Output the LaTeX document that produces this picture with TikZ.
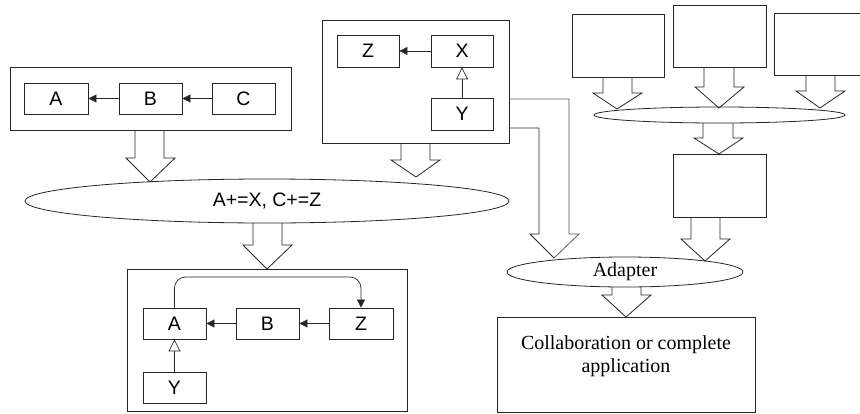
\documentclass[tikz,border=0pt]{standalone}
\usepackage{fontspec}
\setmainfont{Liberation Serif}
\setsansfont{Liberation Sans}
\usetikzlibrary{arrows.meta,shapes.geometric,calc}

\tikzset{
  frame/.style={draw=black!85, line width=0.8pt, inner sep=0pt},
  cls/.style={draw=black!85, line width=0.8pt, inner sep=0pt,
    minimum width=63pt, minimum height=31pt, font=\sffamily\fontsize{19.5}{22}\selectfont},
  oval/.style={ellipse, draw=black!85, line width=0.8pt, inner sep=0pt},
  hollow/.style={draw=black!85, line width=0.8pt, line join=miter},
  uses/.style={draw=black!85, line width=0.7pt, -{Triangle[length=8pt,width=8pt]}},
  inherits/.style={draw=black!85, line width=0.7pt, -{Triangle[open,length=12pt,width=12pt,fill=white]}},
  link/.style={draw=black!85, line width=0.8pt},
}

% hollow block arrow: shaft x-left, shaft x-right, top y, wing x-left, wing x-right, wing y, tip x, tip y
\newcommand\hollowarrow[8]{%
  \draw[hollow] (#1,#3) -- (#1,#6) -- (#4,#6) -- (#7,#8) -- (#5,#6) -- (#2,#6) -- (#2,#3);}

\begin{document}
\begin{tikzpicture}[x=1pt,y=-1pt]
\useasboundingbox (0,0) rectangle (860,413);
\clip (0,0) rectangle (860,413);

% first component: A <- B <- C
\node[frame, minimum width=281pt, minimum height=63pt] (left) at (150.5,98.5) {};
\node[cls, minimum width=64pt] (a1) at (56,98.5) {A};
\node[cls] (b1) at (150.5,98.5) {B};
\node[cls] (c1) at (243.5,98.5) {C};
\draw[uses] (b1) -- (a1);
\draw[uses] (c1) -- (b1);

% second component: Z <- X, Y inherits X
\node[frame, minimum width=187pt, minimum height=123pt] (mid) at (415.5,81.5) {};
\node[cls, minimum width=62pt, minimum height=32pt] (z1) at (368,51) {Z};
\node[cls, minimum width=62pt, minimum height=32pt] (x1) at (462,51) {X};
\node[cls, minimum width=62pt, minimum height=32pt] (y1) at (462,114) {Y};
\draw[uses] (x1) -- (z1);
\draw[inherits] (y1) -- (x1);

% merge rule
\node[oval, minimum width=484pt, minimum height=44pt, font=\sffamily\fontsize{19.5}{22}\selectfont] (merge) at (267,201) {A+=X, C+=Z};

% merged component
\node[frame, minimum width=280pt, minimum height=142pt] (result) at (267,340) {};
\node[cls] (a2) at (174.5,323.5) {A};
\node[cls] (b2) at (267.5,323.5) {B};
\node[cls, minimum width=64pt] (z2) at (361,323.5) {Z};
\node[cls] (y2) at (174.5,387.5) {Y};
\draw[uses] (b2) -- (a2);
\draw[uses] (z2) -- (b2);
\draw[inherits] (y2) -- (a2);
\draw[uses, rounded corners=11pt] (a2.north) -- (a2.north |- 0,277) -- (z2.north |- 0,277) -- (z2.north);

\hollowarrow{135}{164}{130}{126}{175}{158}{150}{182}
\hollowarrow{401}{430}{143}{391}{440}{160}{416}{177}
\hollowarrow{253}{282}{223}{243}{292}{245}{267}{269}

% right-hand side: three parts merged into one
\node[frame, minimum width=92pt, minimum height=63pt] (p1) at (618,45.5) {};
\node[frame, minimum width=93pt, minimum height=62pt] (p2) at (719.5,36) {};
\node[frame, minimum width=96pt, minimum height=62pt] (p3) at (822,44) {};
\node[oval, minimum width=251pt, minimum height=16pt] (join) at (719.5,115) {};
\node[frame, minimum width=93pt, minimum height=63pt] (p4) at (719.5,185.5) {};
\node[oval, minimum width=236pt, minimum height=30pt, font=\fontsize{20}{23}\selectfont] (adapter) at (625,272) {Adapter};
\node[frame, minimum width=258pt, minimum height=95pt] (app) at (626,364.5) {};
\node[align=center, font=\fontsize{20}{23}\selectfont, inner sep=0pt] (applabel) at ($(app.center)+(0,-8)$) {Collaboration or complete\\application};

\hollowarrow{603}{632}{77}{593}{642}{93}{617}{109}
\hollowarrow{704}{734}{67}{695}{744}{87}{719}{108}
\hollowarrow{806}{835}{75}{796}{845}{91}{820}{108}
\hollowarrow{703}{733}{123}{694}{743}{138}{719}{154}
\hollowarrow{691}{720}{217}{681}{730}{239}{705}{261}
\hollowarrow{612}{641}{287}{602}{651}{295}{626}{317}

% second component feeding the adapter
\coordinate (feedtop) at (mid.east |- 0,99);
\coordinate (feedbot) at (mid.east |- 0,128);
\draw[link, draw=black!65] (feedtop) -- (569,99) -- (569,234) -- (579,234) -- (554,258);
\draw[link] (feedbot) -- (539,128) -- (539,234) -- (530,234) -- (554,258);
\end{tikzpicture}
\end{document}
